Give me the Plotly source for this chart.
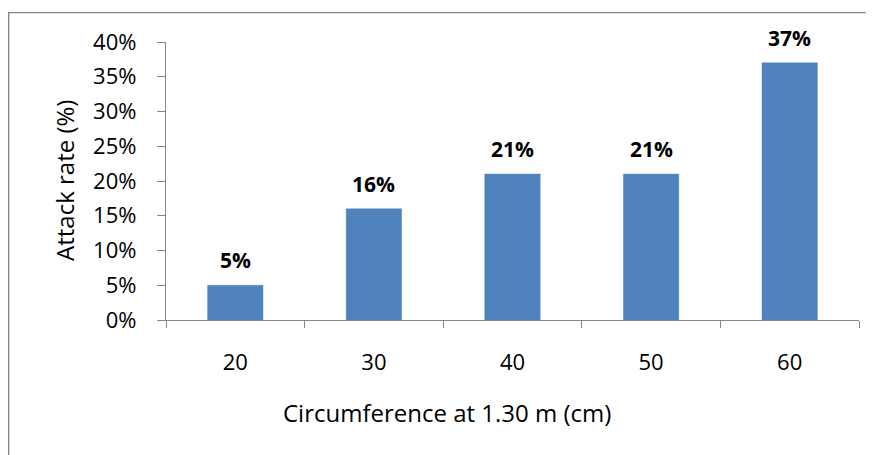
import plotly.graph_objects as go

categories = ["20", "30", "40", "50", "60"]
attack_rate = [0.05, 0.16, 0.21, 0.21, 0.37]
y_ticks = [0, 0.05, 0.10, 0.15, 0.20, 0.25, 0.30, 0.35, 0.40]
x_title = "Circumference at 1.30 m (cm)"
y_title = "Attack rate (%)"

# page has an 8px body margin; figure sized to fill remaining window
OFF = 8
W, H = 874 - OFF, 455 - OFF
ML, MR, MT, MB = 166 - OFF, 15.3, 42.3 - OFF, 135.3
PW, PH = W - ML - MR, H - MT - MB
FONT = "Open Sans, sans-serif"
AXIS_COLOR = "#868686"

fig = go.Figure()
fig.add_trace(go.Bar(
    x=categories, y=attack_rate,
    marker=dict(color="#4F81BD", line=dict(color="#5B8CC6", width=0.5)),
    width=0.4,
    hoverinfo="skip",
))

for i, v in enumerate(attack_rate):
    fig.add_annotation(x=i, y=v, xref="x", yref="y", text=f"<b>{v:.0%}</b>",
                       showarrow=False, yshift=25,
                       font=dict(family=FONT, size=21, color="#000"))

def px_x(p):
    # p: page pixel x
    return (p - OFF - ML) / PW

def px_y(p):
    return (H - MB - (p - OFF)) / PH

fig.add_annotation(xref="paper", yref="paper", x=px_x(447), y=px_y(412),
                   xanchor="center", yanchor="middle",
                   text=x_title, showarrow=False,
                   font=dict(family=FONT, size=24, color="#000"))
fig.add_annotation(xref="paper", yref="paper", x=px_x(65), y=px_y(180),
                   xanchor="center", yanchor="middle",
                   text=y_title, showarrow=False, textangle=-90,
                   font=dict(family=FONT, size=24, color="#000"))

# chart border (Excel chart area)
fig.add_shape(type="rect", xref="paper", yref="paper",
              x0=px_x(8.7), x1=px_x(890), y0=px_y(480), y1=px_y(13),
              line=dict(color=AXIS_COLOR, width=1.4), fillcolor="rgba(0,0,0,0)", layer="below")

fig.update_layout(
    width=W, height=H,
    margin=dict(l=ML, r=MR, t=MT, b=MB, pad=0, autoexpand=False),
    paper_bgcolor="white", plot_bgcolor="white",
    showlegend=False,
    font=dict(family=FONT, size=22, color="#000"),
    bargap=0.6,
)
fig.update_xaxes(
    type="category", range=[-0.5, 4.5], automargin=False,
    showline=True, linecolor=AXIS_COLOR, linewidth=1.3,
    ticks="outside", ticklen=7, tickcolor=AXIS_COLOR, tickwidth=1.3,
    tickson="boundaries", showgrid=False, zeroline=False,
    ticklabelstandoff=22,
    tickfont=dict(family=FONT, size=22, color="#000"),
)
fig.update_yaxes(
    range=[0, 0.4], tickvals=y_ticks, tickformat=".0%", automargin=False,
    showline=True, linecolor=AXIS_COLOR, linewidth=1.3,
    ticks="outside", ticklen=8, tickcolor=AXIS_COLOR, tickwidth=1.3,
    showgrid=False, zeroline=False,
    ticklabelstandoff=16,
    tickfont=dict(family=FONT, size=22, color="#000"),
)

fig.write_html("out.html")
